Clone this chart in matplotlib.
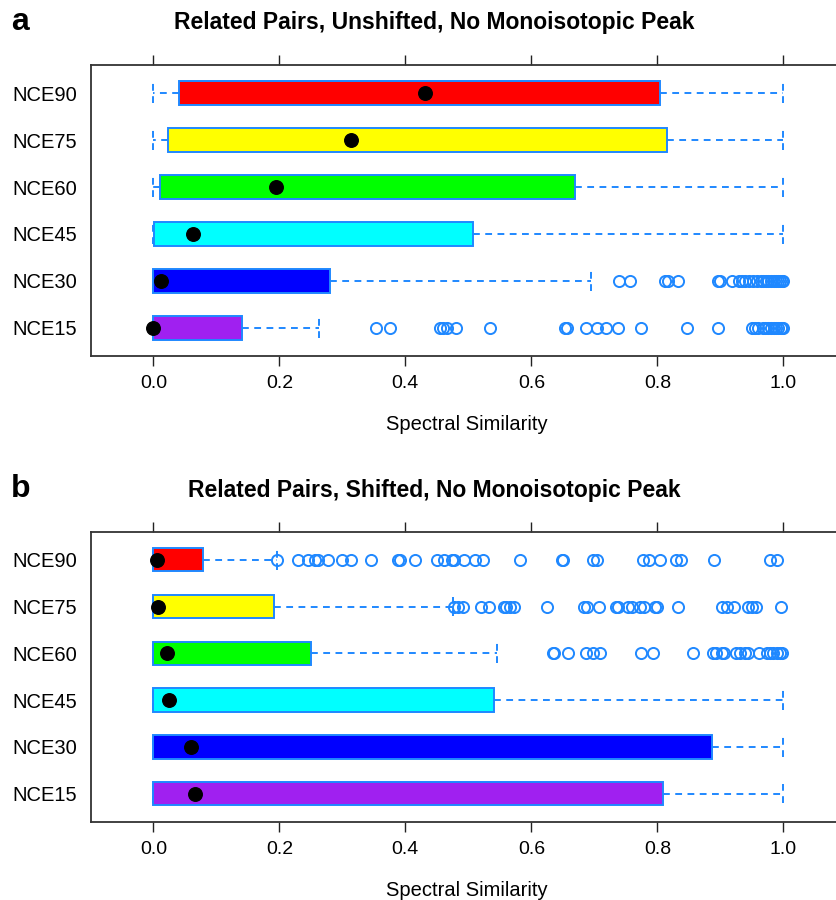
import numpy as np
import matplotlib
matplotlib.use("Agg")
from matplotlib import pyplot as plt

plt.rcParams['font.family'] = ['Liberation Sans', 'DejaVu Sans']

labels = ['NCE15', 'NCE30', 'NCE45', 'NCE60', 'NCE75', 'NCE90']
fills = ['#a020f0', '#0000ff', '#00ffff', '#00ff00', '#ffff00', '#ff0000']

# panel a: unshifted
a_whislo = [0.0, 0.0, 0.0, 0.0, 0.0, 0.0]
a_q1 = [0.0, 0.0, 0.001, 0.011, 0.024, 0.041]
a_med = [0.0, 0.012, 0.0625, 0.195, 0.313, 0.431]
a_q3 = [0.14, 0.2805, 0.508, 0.669, 0.816, 0.804]
a_whishi = [0.2635, 0.694, 1.0, 1.0, 1.0, 1.0]
a_out15 = [0.354, 0.376, 0.455, 0.46, 0.466, 0.48, 0.534, 0.653, 0.656, 0.687, 0.704,
           0.719, 0.738, 0.774, 0.847, 0.896, 0.95, 0.955, 0.96, 0.968, 0.971, 0.975,
           0.98, 0.985, 0.988, 0.992, 0.996, 0.998, 1.0]
a_out30 = [0.739, 0.757, 0.812, 0.817, 0.833, 0.897, 0.9, 0.918, 0.93, 0.934, 0.939,
           0.946, 0.952, 0.958, 0.965, 0.968, 0.972, 0.975, 0.98, 0.985, 0.988, 0.992,
           0.995, 0.998, 1.0]
a_fliers = [a_out15, a_out30, [], [], [], []]

# panel b: shifted
b_whislo = [0.0, 0.0, 0.0, 0.0, 0.0, 0.0]
b_q1 = [0.0, 0.0, 0.0, 0.0, 0.0, 0.0]
b_med = [0.0657, 0.059, 0.0254, 0.021, 0.007, 0.0053]
b_q3 = [0.8085, 0.886, 0.54, 0.251, 0.192, 0.078]
b_whishi = [1.0, 1.0, 1.0, 0.546, 0.475, 0.196]
b_out60 = [0.634, 0.636, 0.658, 0.687, 0.698, 0.709, 0.774, 0.793, 0.856, 0.888, 0.893,
           0.902, 0.906, 0.925, 0.931, 0.939, 0.944, 0.962, 0.974, 0.979, 0.984, 0.99,
           0.995, 0.998]
b_out75 = [0.478, 0.484, 0.491, 0.52, 0.533, 0.557, 0.56, 0.566, 0.573, 0.625, 0.683,
           0.688, 0.707, 0.735, 0.737, 0.754, 0.76, 0.773, 0.779, 0.796, 0.8, 0.833,
           0.902, 0.91, 0.921, 0.944, 0.95, 0.957, 0.996]
b_out90 = [0.197, 0.229, 0.245, 0.256, 0.261, 0.278, 0.3, 0.313, 0.346, 0.389, 0.391,
           0.415, 0.45, 0.462, 0.474, 0.478, 0.493, 0.511, 0.524, 0.582, 0.648, 0.65,
           0.698, 0.704, 0.777, 0.787, 0.805, 0.83, 0.838, 0.89, 0.979, 0.99]
b_fliers = [[], [], [], b_out60, b_out75, b_out90]

edge = '#1f88ff'
W, H = 837, 900
fig = plt.figure(figsize=(W / 100, H / 100), dpi=100)


def panel(ax, whislo, q1, med, q3, whishi, fliers):
    stats = []
    for i in range(len(labels)):
        stats.append(dict(whislo=whislo[i], q1=q1[i], med=med[i], q3=q3[i],
                          whishi=whishi[i], fliers=fliers[i]))
    pos = np.arange(1, len(labels) + 1)
    bp = ax.bxp(stats, positions=pos, vert=False, widths=0.5, patch_artist=True,
                showfliers=True,
                boxprops=dict(edgecolor=edge, linewidth=1.4),
                whiskerprops=dict(color=edge, linestyle=(0, (3.5, 2.8)), linewidth=1.4),
                capprops=dict(color=edge, linestyle=(0, (3.5, 2.8)), linewidth=1.4),
                capwidths=0.42,
                medianprops=dict(visible=False),
                flierprops=dict(marker='o', markerfacecolor='none', markeredgecolor=edge,
                                markersize=8, markeredgewidth=1.4, linestyle='none'))
    for patch, c in zip(bp['boxes'], fills):
        patch.set_facecolor(c)
    ax.scatter(med, pos, s=95, color='black', zorder=5)
    ax.set_xlim(-0.099, 1.099)
    ax.set_ylim(0.4, 6.6)
    ax.set_xticks([0.0, 0.2, 0.4, 0.6, 0.8, 1.0])
    ax.set_xticklabels(['0.0', '0.2', '0.4', '0.6', '0.8', '1.0'])
    ax.set_yticks(pos)
    ax.set_yticklabels(labels)
    ax.tick_params(axis='x', top=True, direction='out', length=7, width=1,
                   labelsize=14, pad=7, color='#222222')
    ax.tick_params(axis='y', length=0, labelsize=14.5, pad=10)
    for s in ax.spines.values():
        s.set_linewidth(1.3)
        s.set_color('#333333')


left = 91 / W
right = 845.7 / W
ax1 = fig.add_axes([left, 1 - 356 / H, right - left, (356 - 65) / H])
panel(ax1, a_whislo, a_q1, a_med, a_q3, a_whishi, a_fliers)
ax2 = fig.add_axes([left, 1 - 821.7 / H, right - left, (821.7 - 531.7) / H])
panel(ax2, b_whislo, b_q1, b_med, b_q3, b_whishi, b_fliers)

fig.text(11 / W, 1 - 22 / H, 'a', fontsize=23, fontweight='bold', va='center', ha='left')
fig.text(434 / W, 1 - 22 / H, 'Related Pairs, Unshifted, No Monoisotopic Peak',
         fontsize=16.5, fontweight='bold', va='center', ha='center')
fig.text(467 / W, 1 - 425 / H, 'Spectral Similarity', fontsize=14.5, va='center', ha='center')

fig.text(11 / W, 1 - 489 / H, 'b', fontsize=23, fontweight='bold', va='center', ha='left')
fig.text(434 / W, 1 - 491 / H, 'Related Pairs, Shifted, No Monoisotopic Peak',
         fontsize=16.5, fontweight='bold', va='center', ha='center')
fig.text(467 / W, 1 - 890 / H, 'Spectral Similarity', fontsize=14.5, va='center', ha='center')

fig.savefig('out.png', dpi=100)
